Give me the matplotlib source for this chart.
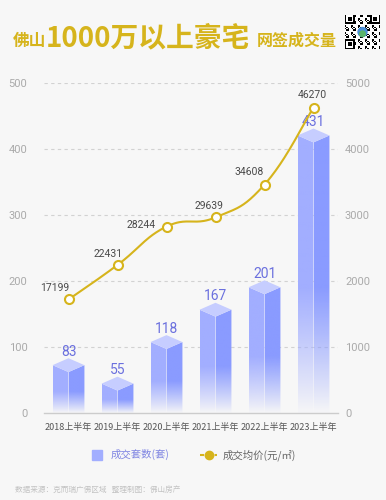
import numpy as np
import matplotlib
matplotlib.use("Agg")
import matplotlib.pyplot as plt
from matplotlib.patches import Polygon
from matplotlib.lines import Line2D
from matplotlib.colors import to_rgb

plt.rcParams['font.family'] = ['Noto Sans CJK SC', 'DejaVu Sans']

# ---- data -----------------------------------------------------------------
categories = ["2018上半年", "2019上半年", "2020上半年",
              "2021上半年", "2022上半年", "2023上半年"]
units = [83, 55, 118, 167, 201, 431]                       # 成交套数(套)
price = [17199, 22431, 28244, 29639, 34608, 46270]         # 成交均价(元/㎡)
left_ticks = [0, 100, 200, 300, 400, 500]
right_ticks = [0, 1000, 2000, 3000, 4000, 5000]

# label offsets for the price labels (points), layout only
price_label_off = [(-10, 8), (-7, 8), (-18, 1), (-5, 8), (-11, 9), (-1, 9)]

GOLD = "#d6b41c"
BAR_L = "#a2aeff"
BAR_R = "#8a9bff"
BAR_T = "#c6cdff"
BAR_TXT = "#6b70de"
BG = "#f7f7f7"

W, H = 386, 500
fig = plt.figure(figsize=(W / 100, H / 100), dpi=100, facecolor=BG)
ax = fig.add_axes([44 / W, 1 - 413 / H, 294 / W, 330 / H])
ax.set_facecolor("none")

x = np.arange(len(categories))
bw = 0.65
d = 10.5   # half height of the top rhombus in data units


def face(verts, color, top):
    poly = Polygon(verts, closed=True, fc="none", ec="none")
    ax.add_patch(poly)
    n = 256
    h = np.linspace(0, 1, n)
    alpha = np.clip(h / 0.45, 0.02, 1.0) ** 0.9
    rgba = np.zeros((n, 1, 4))
    rgba[:, 0, :3] = to_rgb(color)
    rgba[:, 0, 3] = alpha
    xs = [v[0] for v in verts]
    im = ax.imshow(rgba, extent=(min(xs), max(xs), 0, top), origin="lower",
                   aspect="auto", interpolation="bilinear", zorder=2)
    im.set_clip_path(poly)


for c, v in zip(x, units):
    l, r = c - bw / 2, c + bw / 2
    face([(l, 0), (l, v - d), (c, v - 2 * d), (c, 0)], BAR_L, v - d)
    face([(c, 0), (c, v - 2 * d), (r, v - d), (r, 0)], BAR_R, v - d)
    ax.add_patch(Polygon([(c, v), (r, v - d), (c, v - 2 * d), (l, v - d)],
                         closed=True, fc=BAR_T, ec="none", zorder=3))
    ax.annotate(str(v), (c, v), xytext=(0, -0.5), textcoords="offset points",
                ha="center", va="bottom", fontsize=10, color=BAR_TXT,
                family=["Roboto", "DejaVu Sans"], zorder=5)

ax.set_xlim(-0.5, len(categories) - 0.5)
ax.set_ylim(0, 500)
ax.set_yticks(left_ticks)
ax.set_xticks(x)
ax.set_xticklabels(categories, fontsize=6.5, color="#555555")
ax.tick_params(axis="x", length=0, pad=7)
ax.tick_params(axis="y", length=0, pad=12, labelsize=8, labelcolor="#aaaaaa")
for t in ax.get_yticklabels():
    t.set_family(["Roboto", "DejaVu Sans"])
for yv in left_ticks[1:]:
    ax.axhline(yv, color="#d2d2d2", lw=0.8, ls=(0, (3, 3)), zorder=1)
for s in ["top", "right", "left"]:
    ax.spines[s].set_visible(False)
ax.spines["bottom"].set_color("#cccccc")
ax.spines["bottom"].set_linewidth(1.0)

# ---- price line on the right axis ----------------------------------------
ax2 = ax.twinx()
ax2.set_ylim(0, 5000)
ax2.set_yticks(right_ticks)
ax2.tick_params(axis="y", length=0, pad=5, labelsize=8, labelcolor="#aaaaaa")
for t in ax2.get_yticklabels():
    t.set_family(["Roboto", "DejaVu Sans"])
for s in ["top", "right", "left", "bottom"]:
    ax2.spines[s].set_visible(False)

py = np.array(price) / 10.0
pts = np.column_stack([x, py])
k = 0.22
curve = []
for i in range(len(pts) - 1):
    p0 = pts[max(i - 1, 0)]
    p1, p2 = pts[i], pts[i + 1]
    p3 = pts[min(i + 2, len(pts) - 1)]
    c1 = p1 + k * (p2 - p0)
    c2 = p2 - k * (p3 - p1)
    t = np.linspace(0, 1, 40)[:, None]
    seg = ((1 - t) ** 3) * p1 + 3 * ((1 - t) ** 2) * t * c1 \
        + 3 * (1 - t) * t ** 2 * c2 + t ** 3 * p2
    curve.append(seg)
curve = np.vstack(curve)
ax2.plot(curve[:, 0], curve[:, 1], color=GOLD, lw=1.5, zorder=4)
ax2.plot(x, py, ls="none", marker="o", ms=6.5, mfc="white", mec=GOLD,
         mew=1.5, zorder=5)
for xi, yi, p, off in zip(x, py, price, price_label_off):
    ax2.annotate(str(p), (xi, yi), xytext=off, textcoords="offset points",
                 ha="center", va="center", fontsize=7.5, color="#4a4a4a",
                 family=["Roboto", "DejaVu Sans"])

# ---- legend ---------------------------------------------------------------
h1 = Line2D([], [], ls="none", marker="s", ms=6.5, mfc=BAR_L, mec=BAR_L)
h2 = Line2D([], [], color=GOLD, lw=1.5, ls=(0, (2, 1.5)), marker="o", ms=6,
            mfc=GOLD, mec=GOLD)
leg = fig.legend([h1, h2], ["成交套数(套)", "成交均价(元/㎡)"], ncol=2,
                 loc="center", bbox_to_anchor=(192 / W, 1 - 455 / H),
                 frameon=False, fontsize=7.5, handlelength=1.6,
                 handletextpad=0.5, columnspacing=3.0)
leg.get_texts()[0].set_color("#7e84e2")
leg.get_texts()[1].set_color("#666666")

# ---- title ------------------------------------------------------------------
fig.text(13 / W, 1 - 46 / H, "佛山", fontsize=12, weight="bold", color=GOLD,
         va="baseline")
fig.text(46 / W, 1 - 46 / H, "1000万以上豪宅", fontsize=20, weight="bold",
         color=GOLD, va="baseline")
fig.text(257 / W, 1 - 46 / H, "网签成交量", fontsize=11.5, weight="bold",
         color=GOLD, va="baseline")

# QR-like badge (decoration)
qax = fig.add_axes([345 / W, 1 - 50 / H, 35 / W, 36 / H])
n = 25
ii, jj = np.mgrid[0:n, 0:n]
qr = ((ii * 7 + jj * 13 + ii * jj) % 5 < 2).astype(float)
for (r0, c0) in [(0, 0), (0, n - 7), (n - 7, 0)]:
    qr[r0:r0 + 7, c0:c0 + 7] = 1
    qr[r0 + 1:r0 + 6, c0 + 1:c0 + 6] = 0
    qr[r0 + 2:r0 + 5, c0 + 2:c0 + 5] = 1
qax.imshow(1 - qr, cmap="gray", interpolation="nearest", vmin=0, vmax=1)
qax.add_patch(plt.Circle((n / 2 - 0.5, n / 2 - 0.5), 3.2, color="#4a8fd8"))
qax.add_patch(plt.Circle((n / 2 - 0.5, n / 2 + 0.8), 2.0, color="#5bb56a"))
qax.axis("off")

# ---- footer -----------------------------------------------------------------
fig.text(15 / W, 1 - 490 / H, "数据来源：克而瑞广佛区域   整理制图：佛山房产",
         fontsize=5.5, color="#c2c2c2", va="center")

fig.savefig("out.png", dpi=100, facecolor=BG)
